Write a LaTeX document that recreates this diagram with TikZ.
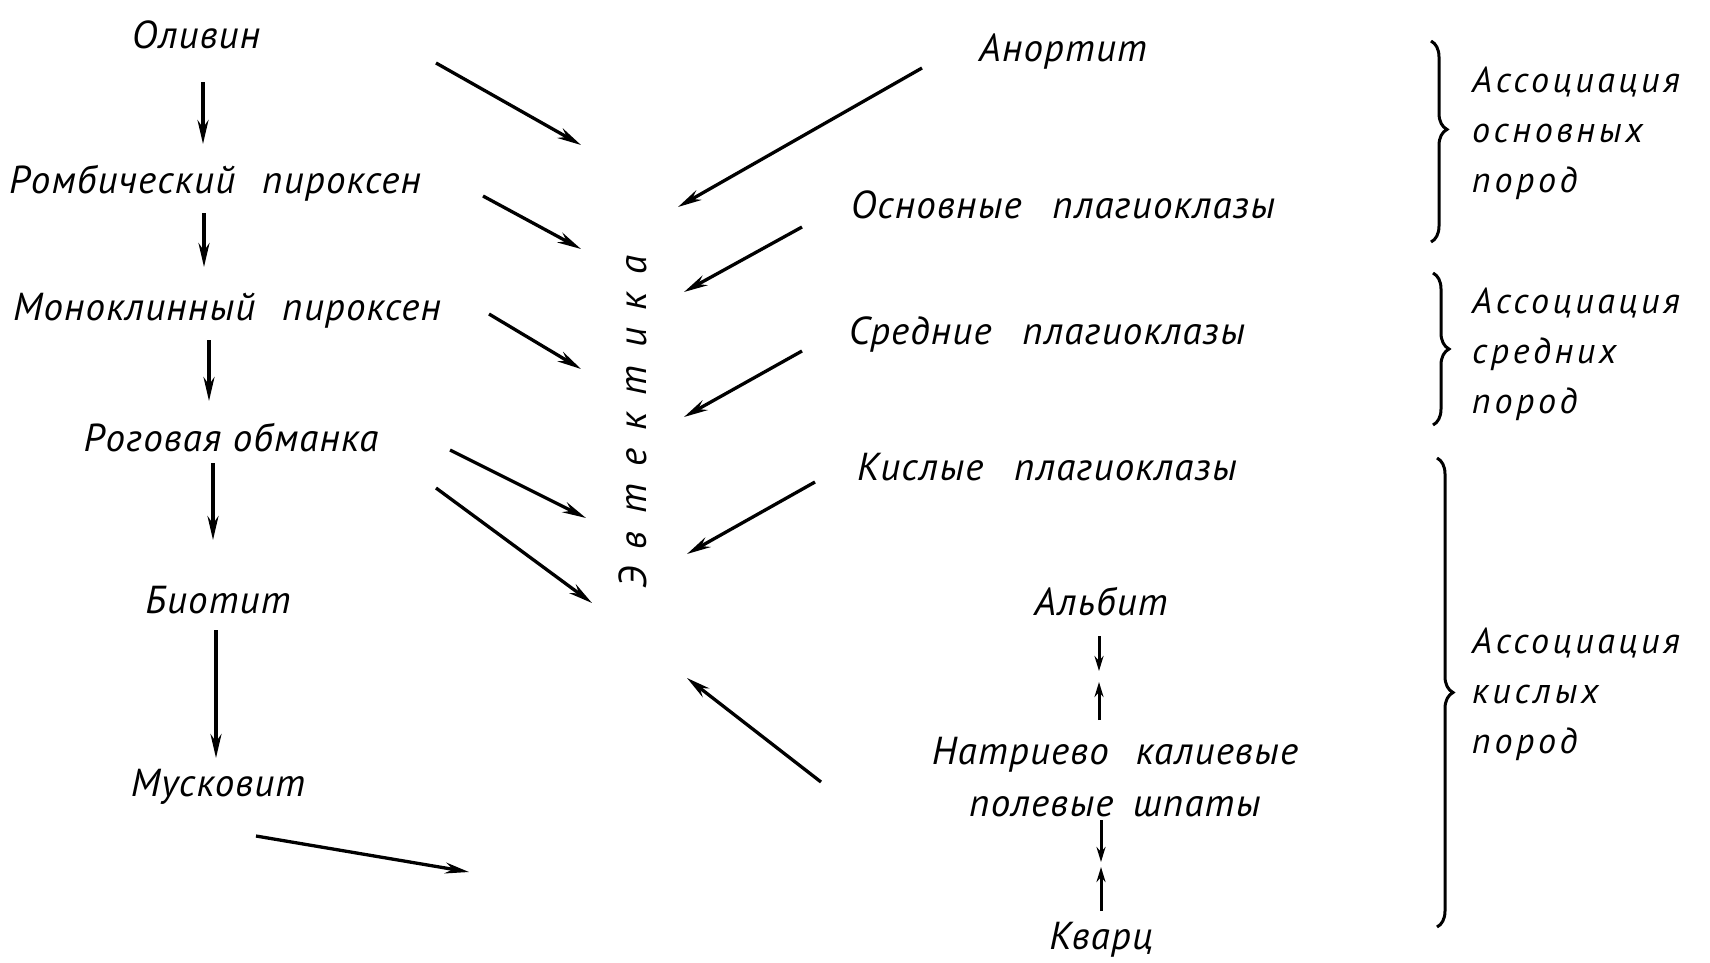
\documentclass[tikz,border=0pt]{standalone}
\usepackage{fontspec}
\setmainfont{PT Sans}
\usetikzlibrary{arrows.meta,decorations.pathreplacing}
\begin{document}
\begin{tikzpicture}[x=1pt,y=-1pt,
  lbl/.style={font=\fontsize{39}{52}\selectfont\itshape\addfontfeature{LetterSpace=3}, inner sep=0pt},
  assoc/.style={font=\fontsize{36}{50}\selectfont\itshape\addfontfeature{LetterSpace=10}, align=left, anchor=west, inner sep=0pt},
  arr/.style={-{Stealth[length=24pt,width=11pt]}, line width=3.3pt},
  sarr/.style={-{Stealth[length=15pt,width=9pt]}, line width=3pt},
  br/.style={decorate, decoration={brace, amplitude=16pt}, line width=3pt}]
\useasboundingbox (0,0) rectangle (1710,962);

% left column
\node[lbl] (olivin) at (196,35)  {Оливин};
\node[lbl] (romb)   at (215,183) {Ромбический\hspace{0.4em} пироксен};
\node[lbl] (mono)   at (227,311) {Моноклинный\hspace{0.4em} пироксен};
\node[lbl] (rog)    at (231,438) {Роговая обманка};
\node[lbl] (biot)   at (218,600) {Биотит};
\node[lbl] (musk)   at (218,787) {Мусковит};

% eutectic
\node[lbl, rotate=90] (evt) at (633,422)
  {Э\hspace{0.45em}в\hspace{0.45em}т\hspace{0.45em}е\hspace{0.45em}к\hspace{0.45em}т\hspace{0.45em}и\hspace{0.45em}к\hspace{0.45em}а};

% right column
\node[lbl] (anort) at (1063,52)  {Анортит};
\node[lbl] (osn)   at (1063,205) {Основные\hspace{0.5em} плагиоклазы};
\node[lbl] (sred)  at (1047,335) {Средние\hspace{0.5em} плагиоклазы};
\node[lbl] (kisl)  at (1047,467) {Кислые\hspace{0.5em} плагиоклазы};
\node[lbl] (albit) at (1101,602) {Альбит};
\node[lbl, align=center] (natr) at (1115,777) {Натриево\hspace{0.4em} калиевые\\полевые\hspace{0.2em} шпаты};
\node[lbl] (kvarc) at (1101,940) {Кварц};

% association labels
\node[assoc] (as1) at (1472,133) {Ассоциация\\основных\\пород};
\node[assoc] (as2) at (1472,354) {Ассоциация\\средних\\пород};
\node[assoc] (as3) at (1472,694) {Ассоциация\\кислых\\пород};

% coordinates for arrow ends
\coordinate (v1a) at (203,82);  \coordinate (v1b) at (203,144);
\coordinate (v2a) at (204,213); \coordinate (v2b) at (204,267);
\coordinate (v3a) at (209,340); \coordinate (v3b) at (209,401);
\coordinate (v4a) at (213,463); \coordinate (v4b) at (213,540);
\coordinate (v5a) at (216,630); \coordinate (v5b) at (216,758);
\coordinate (m1a) at (256,836); \coordinate (m1b) at (469,872);

\coordinate (r1a) at (436,63);  \coordinate (r1b) at (581,145);
\coordinate (r2a) at (483,196); \coordinate (r2b) at (581,249);
\coordinate (r3a) at (489,314); \coordinate (r3b) at (581,369);
\coordinate (r4a) at (450,450); \coordinate (r4b) at (586,518);
\coordinate (r5a) at (436,488); \coordinate (r5b) at (592,603);

\coordinate (l1a) at (922,68);  \coordinate (l1b) at (678,207);
\coordinate (l2a) at (802,227); \coordinate (l2b) at (684,292);
\coordinate (l3a) at (802,351); \coordinate (l3b) at (684,417);
\coordinate (l4a) at (815,482); \coordinate (l4b) at (687,554);
\coordinate (l5a) at (821,782); \coordinate (l5b) at (687,678);

\coordinate (s1a) at (1099,636); \coordinate (s1b) at (1099,671);
\coordinate (s2a) at (1099,720); \coordinate (s2b) at (1099,682);
\coordinate (s3a) at (1101,820); \coordinate (s3b) at (1101,862);
\coordinate (s4a) at (1101,911); \coordinate (s4b) at (1101,867);

\foreach \a in {v1,v2,v3,v4,v5,m1,r1,r2,r3,r4,r5,l1,l2,l3,l4,l5}
  \draw[arr] (\a a) -- (\a b);
\foreach \a in {s1,s2,s3,s4}
  \draw[sarr] (\a a) -- (\a b);

% braces
\coordinate (b1t) at (1431,41);  \coordinate (b1b) at (1431,242);
\coordinate (b2t) at (1433,273); \coordinate (b2b) at (1433,425);
\coordinate (b3t) at (1437,458); \coordinate (b3b) at (1437,927);
\draw[br, decoration={aspect=0.44}] (b1t) -- (b1b);
\draw[br] (b2t) -- (b2b);
\draw[br] (b3t) -- (b3b);
\end{tikzpicture}
\end{document}
